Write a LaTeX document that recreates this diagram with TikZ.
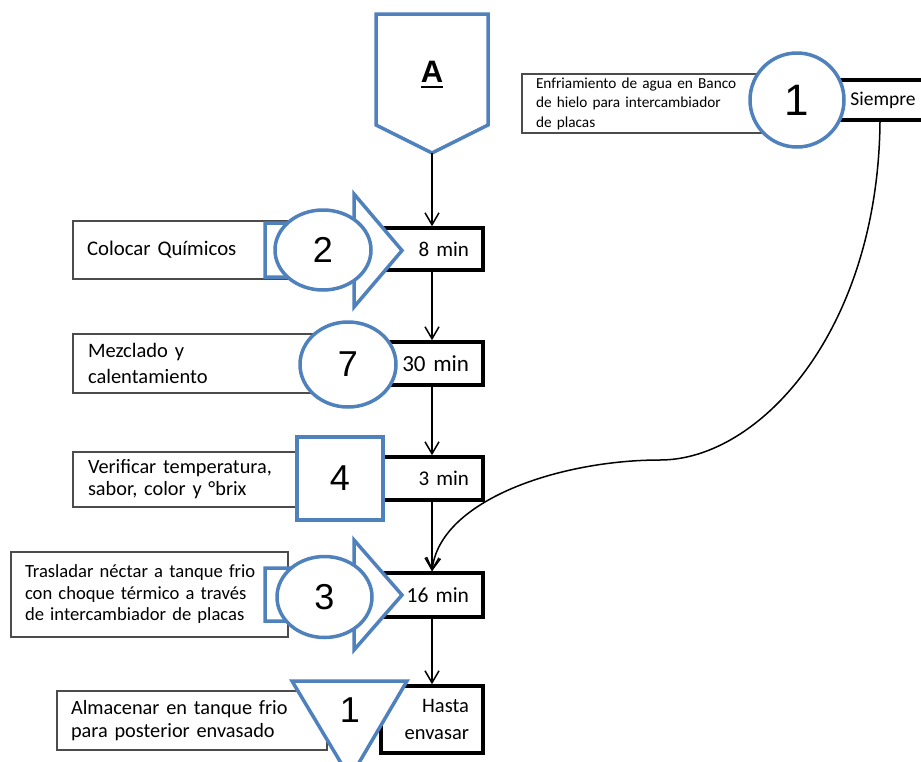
\documentclass[tikz,border=0pt]{standalone}
\usepackage{fontspec}
\setmainfont{Carlito}
\newfontfamily\numfont{Liberation Sans}
\usetikzlibrary{arrows.meta,shapes.geometric,calc}
\definecolor{symblue}{HTML}{4F81BD}
\newcommand\setfs[2]{\fontsize{#1}{#2}\selectfont}
% letter with a thick rule under it
\newcommand\ulletter[1]{\setbox0\hbox{#1}\leavevmode\rlap{\vrule height -3.5pt depth 5.5pt width \wd0}\box0}

\tikzset{
  txtbox/.style={rectangle, draw=black!70, line width=1.1pt, fill=white, align=left, inner ysep=0pt},
  timebox/.style={rectangle, draw=black, line width=3.5pt, fill=white, align=right, inner ysep=0pt,
                  minimum width=102pt, text width=74pt, inner xsep=14pt},
  sym/.style={draw=symblue, line width=3.5pt, fill=white, line join=miter},
  symnode/.style={sym, inner sep=0pt},
  digit/.style={font=\numfont\setfs{36}{36}},
  flow/.style={draw=black, line width=1.5pt, -{Straight Barb[length=12pt,width=14pt]}},
}

\begin{document}
\begin{tikzpicture}[x=1pt, y=-1pt]
  \useasboundingbox (0,0) rectangle (921,761);
  \clip (0,0) rectangle (921,761);
  \fill[white] (0,0) rectangle (921,761);

  % ---------- description boxes ----------
  \node[txtbox, minimum height=59pt, text width=230pt, inner xsep=14pt, font=\setfs{15.3}{19.5}]
    (dtop) at (651,103.5) {Enfriamiento de agua en Banco\\de hielo para intercambiador\\de placas};
  \node[txtbox, minimum height=58pt, text width=189pt, inner xsep=14pt, font=\setfs{20.8}{23}]
    (d2) at (181.5,250) {Colocar Químicos};
  \node[txtbox, minimum height=59pt, text width=227pt, inner xsep=15pt, font=\setfs{20.5}{26}]
    (d7) at (201.5,363.5) {Mezclado y\\calentamiento};
  \node[txtbox, minimum height=55pt, text width=197pt, inner xsep=15pt, font=\setfs{20.3}{22}]
    (d4) at (186.5,479.5) {Verificar temperatura,\\sabor, color y °brix};
  \node[txtbox, minimum height=85pt, text width=249pt, inner xsep=14pt, font=\setfs{18.6}{21.5}]
    (d3) at (149.5,594.5) {Trasladar néctar a tanque frio\\con choque térmico a través\\de intercambiador de placas};
  \node[txtbox, minimum height=59pt, text width=242pt, inner xsep=14pt, font=\setfs{20.3}{23}]
    (ds) at (192,720.5) {Almacenar en tanque frio\\para posterior envasado};

  % ---------- time boxes ----------
  \node[timebox, minimum width=126pt, text width=98pt, align=center, minimum height=40pt, font=\setfs{19.5}{22}]
    (ts) at (883,100) {Siempre};
  \node[timebox, minimum height=42pt, font=\setfs{21}{23}] (t8) at (432,249) {8 min};
  \node[timebox, minimum height=43pt, font=\setfs{23}{25}] (t30) at (432,363.5) {30 min};
  \node[timebox, minimum height=43pt, font=\setfs{21}{23}] (t3) at (432,478.5) {3 min};
  \node[timebox, minimum height=44pt, font=\setfs{21.5}{23}] (t16) at (432,595) {16 min};
  \node[timebox, minimum height=67pt, font=\setfs{20.5}{27}] (th) at (432,719.5) {Hasta\\envasar};

  % ---------- off-page connector ----------
  \draw[sym] (376,14) -- (488,14) -- (488,125) -- (432,153) -- (376,125) -- cycle;
  \coordinate (abot) at (432,153);
  \node[anchor=base, inner sep=0pt, font=\numfont\bfseries\setfs{31}{31}] (alab) at (432,82) {\ulletter{A}};

  % ---------- process symbols ----------
  % operation 1 (top right)
  \node[symnode, ellipse, minimum width=94pt, minimum height=94pt, font=\numfont\setfs{44}{44}] (o1) at (797,100) {1};

  % combined transport + operation 2
  \draw[sym] (265,223) -- (354,223) -- (354,194) -- (402,250.5) -- (354,307) -- (354,277) -- (265,277) -- cycle;
  \node[symnode, ellipse, minimum width=96pt, minimum height=80pt, digit] (o2) at (323,250) {2};

  % operation 7
  \node[symnode, ellipse, minimum width=96pt, minimum height=85pt, digit] (o7) at (348,364.5) {7};

  % inspection 4
  \node[symnode, rectangle, minimum width=86pt, minimum height=83pt, digit] (i4) at (340,478.5) {4};

  % combined transport + operation 3
  \draw[sym] (265,568) -- (354,568) -- (354,540) -- (402,595) -- (354,650) -- (354,621) -- (265,621) -- cycle;
  \node[symnode, ellipse, minimum width=95pt, minimum height=81pt, digit] (o3) at (324.5,597) {3};

  % storage 1
  \draw[sym] (292,681) -- (407,681) -- (350,778) -- cycle;
  \node[digit, inner sep=0pt] (s1) at (350,710) {1};

  % ---------- flow ----------
  \draw[flow] (abot) -- (t8.north);
  \draw[flow] (t8.south) -- (t30.north);
  \draw[flow] (t30.south) -- (t3.north);
  \draw[flow] (t3.south) -- (t16.north);
  \draw[flow] (t16.south) -- (th.north);

  \coordinate (bend) at (660,460);
  \draw[flow] ($(ts.south)+(-3,0)$) .. controls (878,330) and (760,460) .. (bend)
              .. controls (560,460) and (440,500) .. (t16.north);
\end{tikzpicture}
\end{document}
